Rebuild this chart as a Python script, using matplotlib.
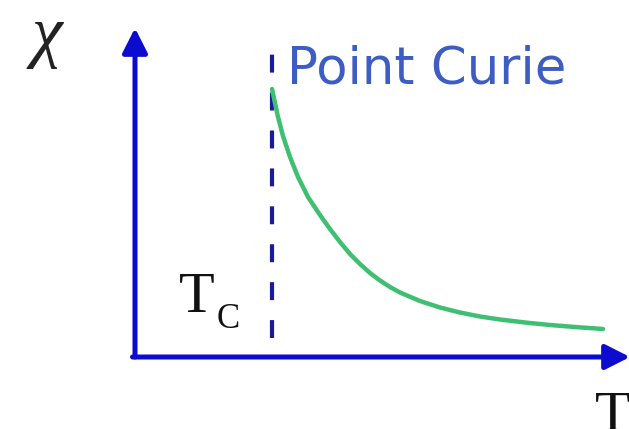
import matplotlib
matplotlib.use('Agg')
from matplotlib import pyplot as plt

# susceptibility curve above the Curie point (schematic units, origin at the axes corner)
temperature = [137, 140, 143, 148, 155, 163, 173, 185, 195, 205, 215, 225, 235,
               245, 255, 265, 285, 305, 325, 345, 365, 390, 415, 440, 468]
susceptibility = [268, 254, 240, 221, 200, 180, 160, 142, 128, 115, 103, 93, 84,
                  76.5, 70, 64.5, 56, 49.5, 44.5, 40.5, 37.5, 34.5, 32, 30, 28]
curie_temperature = 137
x_axis_end = 495
y_axis_end = 329

axis_blue = '#0c0cd0'
dash_blue = '#1a1a9c'
curve_green = '#3fbf72'
label_blue = '#3d5cc4'


def main():
    fig = plt.figure(figsize=(6.29, 4.29), dpi=100)
    ax = fig.add_axes([0, 0, 1, 1])
    ax.set_xlim(-135, 494)
    ax.set_ylim(-72, 357)
    ax.axis('off')

    # > axes drawn as arrows
    arrow_props = dict(arrowstyle='-|>,head_length=0.75,head_width=0.38', lw=3.6,
                       color=axis_blue, shrinkA=0, shrinkB=0, mutation_scale=20)
    ax.annotate('', xy=(0, y_axis_end), xytext=(0, 0), arrowprops=arrow_props,
                annotation_clip=False)
    ax.annotate('', xy=(x_axis_end, 0), xytext=(-2.5, 0), arrowprops=arrow_props,
                annotation_clip=False)

    # > Curie temperature marker
    ax.plot([curie_temperature, curie_temperature], [19, 314], color=dash_blue, lw=3,
            dashes=(4.3, 4.8), solid_capstyle='butt', dash_capstyle='butt')

    # > the curve
    ax.plot(temperature, susceptibility, color=curve_green, lw=3.2,
            solid_capstyle='round', solid_joinstyle='round')

    # > labels
    ax.text(-88, 320, 'χ', fontsize=50, family='Liberation Serif', style='italic',
            ha='center', va='center', color='#222222')
    ax.text(152, 274, 'Point Curie', fontsize=37, family='DejaVu Sans', color=label_blue,
            ha='left', va='baseline')
    ax.text(44, 45, 'T', fontsize=42, family='Liberation Serif', color='#111111',
            ha='left', va='baseline')
    ax.text(82, 29, 'C', fontsize=25, family='Liberation Serif', color='#111111',
            ha='left', va='baseline')
    ax.text(460, -74, 'T', fontsize=42, family='Liberation Serif', color='#111111',
            ha='left', va='baseline')

    fig.savefig('out.png', dpi=100)


if __name__ == '__main__':
    main()
